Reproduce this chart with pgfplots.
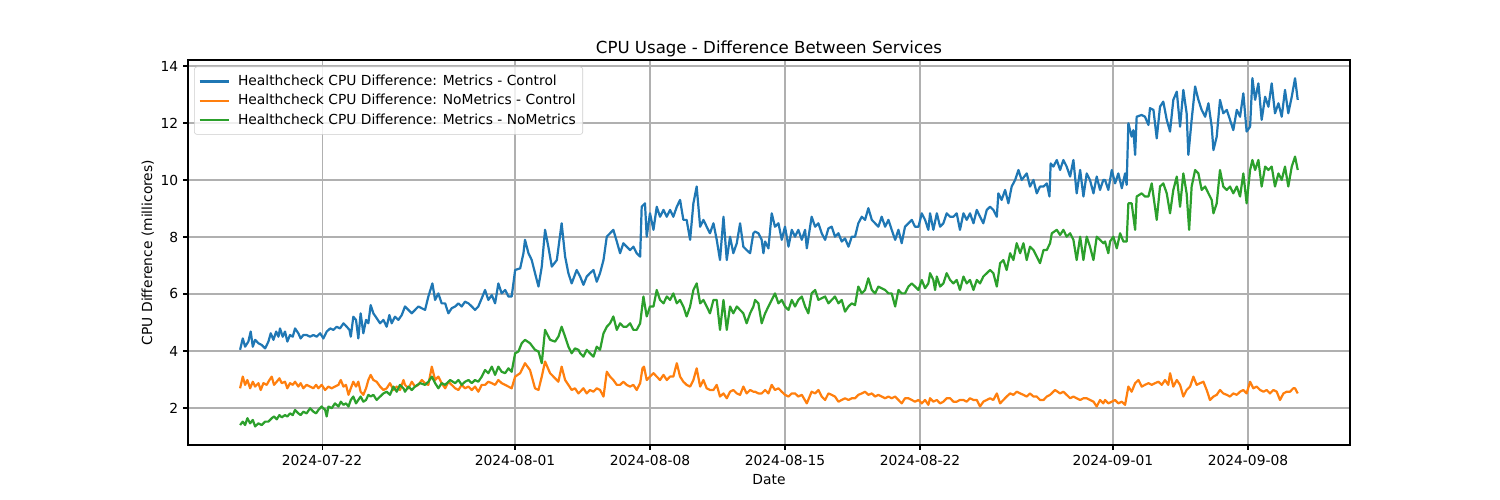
\documentclass[border=0pt]{standalone}
\usepackage{fontspec}
\setmainfont{DejaVu Sans}
\usepackage{pgfplots}
\pgfplotsset{compat=1.18}
\usepackage{pgfplotstable}
\definecolor{tabblue}{HTML}{1F77B4}
\definecolor{taborange}{HTML}{FF7F0E}
\definecolor{tabgreen}{HTML}{2CA02C}
\definecolor{gridgray}{HTML}{B0B0B0}
\definecolor{legframe}{HTML}{CCCCCC}

% x = days since 2024-07-22 00:00
\pgfplotstableread[row sep=\\]{
d v\\
-4.25 4.04\\ -4.11 4.44\\ -3.99 4.15\\ -3.82 4.33\\ -3.70 4.68\\ -3.59 4.15\\ -3.47 4.39\\ -3.30 4.27\\ -3.13 4.21\\ -2.95 4.09\\
-2.78 4.33\\ -2.66 4.62\\ -2.52 4.39\\ -2.38 4.68\\ -2.26 4.50\\ -2.18 4.79\\ -2.04 4.50\\ -1.92 4.68\\ -1.80 4.33\\ -1.66 4.56\\
-1.52 4.50\\ -1.40 4.79\\ -1.23 4.62\\ -1.11 4.44\\ -0.97 4.56\\ -0.80 4.56\\ -0.62 4.50\\ -0.45 4.56\\ -0.28 4.50\\ -0.10 4.62\\
0.07 4.44\\ 0.24 4.68\\ 0.42 4.79\\ 0.59 4.74\\ 0.76 4.85\\ 0.93 4.79\\ 1.11 4.97\\ 1.28 4.85\\ 1.42 4.74\\ 1.49 4.50\\
1.62 5.20\\ 1.76 5.09\\ 1.88 4.44\\ 2.00 5.32\\ 2.14 4.62\\ 2.28 5.09\\ 2.40 4.97\\ 2.52 5.61\\ 2.66 5.32\\ 2.83 5.15\\
3.01 4.97\\ 3.18 5.09\\ 3.35 4.85\\ 3.49 5.26\\ 3.61 4.97\\ 3.78 5.20\\ 3.96 5.09\\ 4.13 5.26\\
4.30 5.56\\ 4.65 5.32\\ 4.99 5.56\\ 5.34 5.44\\ 5.51 5.91\\ 5.72 6.37\\ 5.86 5.79\\ 6.03 6.02\\ 6.20 5.67\\ 6.38 5.67\\
6.55 5.32\\ 6.72 5.50\\ 6.90 5.56\\ 7.07 5.67\\ 7.24 5.56\\ 7.41 5.73\\ 7.59 5.67\\ 7.76 5.56\\ 7.93 5.44\\ 8.10 5.56\\
8.28 5.85\\ 8.45 6.14\\ 8.62 5.79\\ 8.80 5.96\\ 8.97 5.67\\ 9.14 6.37\\ 9.31 6.02\\ 9.49 6.14\\ 9.66 5.91\\ 9.83 5.91\\
10.01 6.84\\ 10.27 6.90\\ 10.44 7.43\\ 10.52 7.90\\ 10.70 7.43\\ 10.87 7.19\\ 11.04 6.73\\ 11.22 6.26\\ 11.39 6.96\\ 11.56 8.25\\
11.73 7.66\\ 11.91 6.96\\ 12.17 7.19\\ 12.42 8.48\\ 12.60 7.31\\ 12.77 6.73\\ 12.94 6.37\\ 13.20 6.84\\
13.38 6.61\\ 13.55 6.32\\ 13.72 6.61\\ 13.89 6.73\\ 14.07 6.84\\ 14.24 6.43\\ 14.41 6.73\\ 14.59 7.19\\ 14.76 8.01\\ 14.93 8.13\\
15.10 8.25\\ 15.28 7.84\\ 15.45 7.43\\ 15.62 7.78\\ 15.79 7.66\\ 15.97 7.54\\ 16.14 7.66\\ 16.31 7.43\\ 16.49 7.31\\ 16.57 9.06\\
16.74 9.18\\ 16.83 8.01\\ 17.00 8.83\\ 17.18 8.25\\ 17.35 9.06\\ 17.52 8.71\\ 17.70 8.95\\ 17.87 8.71\\ 18.04 8.95\\ 18.21 8.71\\
18.39 9.06\\ 18.56 9.30\\ 18.73 8.60\\ 18.90 8.60\\ 19.08 7.90\\ 19.25 9.18\\ 19.42 9.77\\ 19.60 8.36\\ 19.77 8.60\\ 19.94 8.36\\
20.11 8.13\\ 20.29 8.48\\ 20.46 7.90\\ 20.63 7.19\\ 20.81 8.71\\ 20.98 7.19\\ 21.15 8.01\\ 21.32 7.43\\ 21.50 7.78\\ 21.67 8.48\\
21.84 7.66\\ 22.01 7.54\\ 22.19 7.43\\ 22.36 8.13\\
22.45 8.19\\ 22.62 8.13\\ 22.79 7.90\\ 22.88 7.43\\ 22.97 7.84\\ 23.14 7.60\\ 23.31 8.83\\ 23.48 8.36\\ 23.66 8.48\\ 23.83 7.90\\
24.00 8.36\\ 24.18 7.66\\ 24.35 8.25\\ 24.52 8.01\\ 24.69 8.25\\ 24.87 7.90\\ 25.04 8.25\\ 25.13 7.60\\ 25.38 8.71\\ 25.56 8.36\\
25.73 8.48\\ 25.90 8.13\\ 26.08 7.90\\ 26.25 8.30\\ 26.42 8.36\\ 26.59 8.01\\ 26.77 8.13\\ 26.94 7.84\\ 27.11 7.95\\ 27.29 7.66\\
27.46 8.01\\ 27.63 8.01\\ 27.80 8.48\\ 27.98 8.71\\ 28.15 8.60\\ 28.32 9.01\\ 28.50 8.60\\ 28.67 8.48\\ 28.84 8.36\\ 29.01 8.71\\
29.19 8.36\\ 29.36 8.60\\ 29.53 8.25\\ 29.71 7.90\\ 29.88 8.25\\ 30.05 7.78\\ 30.22 8.36\\ 30.40 8.48\\ 30.57 8.60\\ 30.74 8.36\\
30.92 8.36\\ 31.09 8.83\\ 31.26 8.60\\ 31.43 8.25\\
31.52 8.83\\ 31.69 8.25\\ 31.87 8.83\\ 32.04 8.36\\ 32.21 8.48\\ 32.38 8.83\\ 32.56 8.71\\ 32.73 8.71\\ 32.90 8.83\\ 33.07 8.25\\
33.25 8.83\\ 33.42 8.60\\ 33.59 8.83\\ 33.77 8.48\\ 33.94 8.95\\ 34.11 8.71\\ 34.28 8.48\\ 34.46 8.95\\ 34.63 9.06\\ 34.80 8.95\\
34.98 8.71\\ 35.06 9.53\\ 35.23 9.30\\ 35.41 9.65\\ 35.58 9.18\\ 35.75 9.77\\ 35.93 10.00\\ 36.10 10.35\\ 36.27 10.00\\ 36.53 10.23\\
36.70 9.77\\ 36.88 10.00\\ 37.05 9.53\\ 37.22 9.77\\ 37.40 9.77\\ 37.57 9.88\\ 37.71 9.42\\ 37.77 10.58\\ 37.91 10.47\\ 38.09 10.70\\
38.26 10.35\\ 38.43 10.70\\ 38.60 10.47\\ 38.78 10.12\\ 38.95 10.70\\ 39.12 9.53\\ 39.30 10.35\\ 39.47 9.42\\ 39.64 10.23\\ 39.81 10.00\\
39.99 9.53\\ 40.16 10.12\\ 40.33 9.65\\ 40.50 10.00\\
40.59 10.00\\ 40.76 9.65\\ 40.94 10.35\\ 41.11 9.88\\ 41.28 10.23\\ 41.46 9.71\\ 41.63 10.23\\ 41.71 9.83\\ 41.80 11.99\\ 41.97 11.52\\
42.06 11.75\\ 42.15 10.88\\ 42.23 12.22\\ 42.49 12.28\\ 42.66 12.22\\ 42.84 11.93\\ 42.92 12.52\\ 43.10 12.46\\ 43.27 11.46\\ 43.44 12.57\\
43.61 12.75\\ 43.79 12.11\\ 43.96 11.70\\ 44.13 12.81\\ 44.31 13.10\\ 44.48 11.87\\ 44.65 13.16\\ 44.82 12.34\\ 44.91 10.88\\ 45.08 12.11\\
45.26 13.28\\ 45.43 12.81\\ 45.60 12.46\\ 45.78 12.22\\ 45.95 12.69\\ 46.12 11.87\\ 46.21 11.05\\ 46.38 11.52\\ 46.55 12.81\\ 46.72 12.34\\
46.90 12.46\\ 47.07 12.11\\ 47.24 11.75\\ 47.42 12.46\\ 47.59 12.22\\ 47.76 13.04\\ 47.93 11.70\\ 48.11 11.87\\ 48.23 13.57\\ 48.37 12.81\\
48.54 13.39\\ 48.71 12.11\\ 48.89 12.92\\ 49.06 12.57\\ 49.23 13.39\\ 49.40 12.34\\ 49.58 12.69\\ 49.75 12.22\\ 49.92 13.16\\ 50.09 12.34\\
50.27 12.92\\ 50.44 13.57\\ 50.58 12.81\\
}\blueT

\pgfplotstableread[row sep=\\]{
d v\\
-4.25 2.69\\ -4.11 3.10\\ -3.99 2.81\\ -3.87 2.98\\ -3.73 2.69\\ -3.59 2.92\\ -3.47 2.75\\ -3.30 2.87\\ -3.18 2.63\\ -3.04 2.87\\
-2.87 2.81\\ -2.73 2.98\\ -2.61 3.10\\ -2.49 2.81\\ -2.35 2.92\\ -2.21 3.04\\ -2.09 2.87\\ -1.92 2.92\\ -1.80 2.69\\ -1.66 2.87\\
-1.52 2.81\\ -1.40 2.92\\ -1.23 2.75\\ -1.11 2.87\\ -0.97 2.69\\ -0.80 2.81\\ -0.62 2.75\\ -0.45 2.69\\ -0.31 2.81\\ -0.19 2.69\\
-0.02 2.81\\ 0.16 2.63\\ 0.33 2.75\\ 0.50 2.69\\ 0.67 2.75\\ 0.85 2.81\\ 0.97 2.98\\ 1.11 2.75\\ 1.24 2.81\\ 1.37 2.46\\
1.49 2.69\\ 1.62 2.92\\ 1.76 2.75\\ 1.88 2.92\\ 2.00 2.57\\ 2.14 2.46\\ 2.28 2.69\\ 2.40 2.98\\ 2.52 3.16\\ 2.66 2.98\\
2.83 2.92\\ 3.01 2.75\\ 3.18 2.63\\ 3.35 2.69\\ 3.52 2.87\\ 3.70 2.63\\ 3.87 2.75\\ 4.04 2.63\\ 4.22 2.98\\
4.30 2.81\\ 4.48 2.69\\ 4.65 2.92\\ 4.82 2.75\\ 4.99 2.81\\ 5.17 2.98\\ 5.34 2.87\\ 5.51 2.81\\ 5.69 3.45\\ 5.86 2.98\\
6.03 3.10\\ 6.20 2.87\\ 6.38 2.69\\ 6.55 2.92\\ 6.72 2.81\\ 6.90 2.69\\ 7.07 2.63\\ 7.24 2.81\\ 7.41 2.69\\ 7.59 2.75\\
7.76 2.63\\ 7.93 2.75\\ 8.10 2.57\\ 8.28 2.81\\ 8.45 2.81\\ 8.62 2.92\\ 8.80 2.87\\ 8.97 2.81\\ 9.14 2.98\\ 9.31 2.87\\
9.49 2.81\\ 9.66 2.75\\ 9.83 2.69\\ 10.01 3.10\\ 10.27 3.22\\ 10.52 3.57\\ 10.78 3.33\\ 11.04 2.69\\ 11.22 2.63\\ 11.39 3.10\\
11.56 3.63\\ 11.82 3.22\\ 12.08 3.04\\ 12.25 2.92\\ 12.42 3.45\\ 12.60 2.98\\ 12.77 2.81\\ 12.94 2.63\\ 13.11 2.69\\ 13.29 2.51\\
13.38 2.57\\ 13.55 2.69\\ 13.72 2.51\\ 13.89 2.63\\ 14.07 2.57\\ 14.24 2.69\\ 14.41 2.63\\ 14.59 2.40\\ 14.76 3.27\\ 14.93 3.10\\
15.10 2.98\\ 15.28 2.81\\ 15.45 2.81\\ 15.62 2.92\\ 15.79 2.81\\ 15.97 2.75\\ 16.14 2.81\\ 16.31 2.63\\ 16.49 2.87\\ 16.61 3.39\\
16.69 3.45\\ 16.83 2.98\\ 17.00 3.10\\ 17.18 3.22\\ 17.35 3.10\\ 17.52 2.98\\ 17.70 3.16\\ 17.87 2.98\\ 18.04 3.10\\ 18.21 3.10\\
18.39 3.57\\ 18.56 3.10\\ 18.73 2.92\\ 18.90 2.81\\ 19.08 2.75\\ 19.25 2.98\\ 19.42 3.39\\ 19.60 2.75\\ 19.77 2.98\\ 19.94 2.69\\
20.11 2.63\\ 20.29 2.63\\ 20.46 2.81\\ 20.63 2.40\\ 20.81 2.51\\ 20.98 2.34\\ 21.15 2.57\\ 21.32 2.63\\ 21.50 2.51\\ 21.67 2.46\\
21.84 2.75\\ 22.01 2.51\\ 22.19 2.63\\ 22.36 2.57\\
22.45 2.57\\ 22.62 2.51\\ 22.79 2.51\\ 22.97 2.63\\ 23.14 2.51\\ 23.31 2.81\\ 23.48 2.63\\ 23.66 2.69\\ 23.83 2.57\\ 24.00 2.46\\
24.18 2.40\\ 24.35 2.51\\ 24.52 2.51\\ 24.69 2.40\\ 24.87 2.46\\ 25.13 2.16\\ 25.38 2.57\\ 25.56 2.51\\ 25.73 2.63\\ 25.90 2.40\\
26.08 2.28\\ 26.25 2.51\\ 26.42 2.46\\ 26.59 2.40\\ 26.77 2.22\\ 26.94 2.28\\ 27.11 2.34\\ 27.29 2.28\\ 27.46 2.34\\ 27.63 2.34\\
27.80 2.46\\ 27.98 2.51\\ 28.15 2.57\\ 28.32 2.46\\ 28.50 2.51\\ 28.67 2.40\\ 28.84 2.46\\ 29.01 2.40\\ 29.19 2.34\\ 29.36 2.40\\
29.53 2.34\\ 29.71 2.40\\ 29.88 2.28\\ 30.05 2.16\\ 30.22 2.34\\ 30.40 2.34\\ 30.57 2.28\\ 30.74 2.22\\ 30.92 2.28\\ 31.09 2.16\\
31.26 2.28\\ 31.43 2.11\\
31.52 2.34\\ 31.69 2.22\\ 31.87 2.28\\ 32.04 2.16\\ 32.21 2.22\\ 32.38 2.34\\ 32.56 2.34\\ 32.73 2.22\\ 32.90 2.22\\ 33.07 2.28\\
33.25 2.28\\ 33.42 2.22\\ 33.59 2.34\\ 33.77 2.28\\ 33.94 2.28\\ 34.11 2.05\\ 34.28 2.22\\ 34.46 2.28\\ 34.63 2.34\\ 34.80 2.28\\
34.98 2.51\\ 35.15 2.16\\ 35.32 2.28\\ 35.49 2.40\\ 35.67 2.51\\ 35.84 2.46\\ 36.01 2.57\\ 36.19 2.51\\ 36.36 2.46\\ 36.53 2.40\\
36.70 2.51\\ 36.88 2.40\\ 37.05 2.40\\ 37.22 2.28\\ 37.40 2.28\\ 37.57 2.40\\ 37.74 2.46\\ 38.00 2.63\\ 38.26 2.51\\ 38.43 2.57\\
38.60 2.46\\ 38.78 2.34\\ 38.95 2.40\\ 39.12 2.34\\ 39.30 2.28\\ 39.47 2.34\\ 39.64 2.34\\ 39.81 2.28\\ 39.99 2.22\\ 40.16 2.05\\
40.33 2.28\\ 40.50 2.16\\
40.59 2.28\\ 40.76 2.16\\ 40.94 2.22\\ 41.11 2.28\\ 41.28 2.16\\ 41.46 2.22\\ 41.63 2.11\\ 41.80 2.75\\ 41.97 2.57\\ 42.15 2.87\\
42.32 2.98\\ 42.49 2.75\\ 42.66 2.81\\ 42.84 2.87\\ 43.01 2.81\\ 43.18 2.87\\ 43.36 2.92\\ 43.53 2.81\\ 43.70 2.98\\ 43.87 2.81\\
43.96 3.22\\ 44.13 2.75\\ 44.31 2.98\\ 44.48 2.81\\ 44.65 2.40\\ 44.82 2.63\\ 45.00 2.75\\ 45.17 3.10\\ 45.34 2.81\\ 45.52 2.87\\
45.69 2.92\\ 45.86 2.63\\ 46.03 2.28\\ 46.21 2.40\\ 46.38 2.46\\ 46.55 2.63\\ 46.72 2.51\\ 46.90 2.46\\ 47.07 2.40\\ 47.24 2.51\\
47.42 2.46\\ 47.59 2.57\\ 47.76 2.63\\ 47.93 2.51\\ 48.11 2.92\\ 48.28 2.69\\ 48.45 2.75\\ 48.63 2.63\\ 48.80 2.57\\ 48.97 2.63\\
49.14 2.51\\ 49.32 2.63\\ 49.49 2.57\\ 49.66 2.28\\ 49.84 2.51\\ 50.01 2.57\\ 50.18 2.57\\ 50.35 2.69\\ 50.44 2.69\\ 50.58 2.51\\
}\orangeT

\pgfplotstableread[row sep=\\]{
d v\\
-4.25 1.40\\ -4.11 1.52\\ -3.99 1.40\\ -3.87 1.64\\ -3.73 1.46\\ -3.59 1.58\\ -3.47 1.35\\ -3.30 1.46\\ -3.13 1.40\\ -2.95 1.52\\
-2.78 1.52\\ -2.61 1.64\\ -2.49 1.70\\ -2.35 1.60\\ -2.21 1.75\\ -2.09 1.67\\ -1.92 1.75\\ -1.80 1.70\\ -1.66 1.81\\ -1.52 1.75\\
-1.40 1.93\\ -1.23 1.81\\ -1.11 1.75\\ -0.97 1.87\\ -0.80 1.81\\ -0.62 1.99\\ -0.45 1.87\\ -0.31 1.81\\ -0.19 1.93\\ -0.02 2.05\\
0.16 1.93\\ 0.24 1.70\\ 0.33 2.05\\ 0.50 1.99\\ 0.67 2.16\\ 0.85 2.05\\ 0.97 2.22\\ 1.11 2.11\\ 1.24 2.16\\ 1.37 2.05\\
1.49 2.28\\ 1.62 2.40\\ 1.76 2.16\\ 1.88 2.28\\ 2.00 2.40\\ 2.14 2.22\\ 2.28 2.28\\ 2.40 2.46\\ 2.52 2.40\\ 2.66 2.46\\
2.83 2.28\\ 3.01 2.40\\ 3.18 2.51\\ 3.35 2.57\\ 3.52 2.46\\ 3.70 2.75\\ 3.87 2.57\\ 4.04 2.81\\ 4.22 2.69\\
4.30 2.57\\ 4.48 2.75\\ 4.65 2.63\\ 4.82 2.75\\ 5.08 2.87\\ 5.34 2.81\\ 5.51 2.92\\ 5.69 3.10\\ 5.86 2.87\\ 6.03 2.69\\
6.20 2.87\\ 6.38 2.81\\ 6.64 2.98\\ 6.90 2.87\\ 7.07 2.98\\ 7.24 2.81\\ 7.41 2.92\\ 7.59 2.98\\ 7.76 2.87\\ 7.93 2.98\\
8.10 2.92\\ 8.28 3.10\\ 8.45 3.33\\ 8.62 3.22\\ 8.80 3.45\\ 8.97 3.16\\ 9.14 3.45\\ 9.31 3.27\\ 9.49 3.22\\ 9.66 3.39\\
9.83 3.27\\ 10.01 3.92\\ 10.18 3.98\\ 10.35 4.27\\ 10.52 4.39\\ 10.78 4.27\\ 11.04 4.04\\ 11.22 3.98\\ 11.39 3.57\\ 11.56 4.74\\
11.82 4.39\\ 12.08 4.33\\ 12.25 4.50\\ 12.42 4.85\\ 12.60 4.50\\ 12.77 4.15\\ 12.94 3.92\\ 13.11 4.09\\ 13.29 4.04\\
13.38 3.92\\ 13.55 3.80\\ 13.72 4.04\\ 13.89 3.92\\ 14.07 3.80\\ 14.24 4.15\\ 14.41 4.04\\ 14.59 4.62\\ 14.76 4.85\\ 14.93 4.97\\
15.10 5.21\\ 15.28 4.74\\ 15.45 4.97\\ 15.62 4.85\\ 15.79 4.85\\ 15.97 4.97\\ 16.14 4.74\\ 16.31 4.74\\ 16.49 4.97\\ 16.66 5.91\\
16.83 5.21\\ 17.00 5.56\\ 17.18 5.56\\ 17.35 6.14\\ 17.52 5.79\\ 17.70 5.67\\ 17.87 5.91\\ 18.04 5.79\\ 18.21 6.02\\ 18.39 5.67\\
18.56 5.79\\ 18.73 5.56\\ 18.90 5.21\\ 19.08 5.56\\ 19.25 6.14\\ 19.42 6.37\\ 19.60 5.67\\ 19.77 5.79\\ 19.94 5.56\\ 20.11 5.32\\
20.29 5.79\\ 20.46 5.79\\ 20.63 4.74\\ 20.81 5.79\\ 20.98 4.74\\ 21.15 5.56\\ 21.32 5.32\\ 21.50 5.56\\ 21.67 5.44\\ 21.84 5.32\\
22.01 4.97\\ 22.19 5.32\\ 22.36 5.56\\
22.45 5.79\\ 22.62 5.67\\ 22.79 4.97\\ 22.97 5.32\\ 23.14 5.56\\ 23.31 5.79\\ 23.48 6.02\\ 23.66 5.67\\ 23.83 5.79\\ 24.00 5.56\\
24.18 5.44\\ 24.35 5.79\\ 24.52 5.56\\ 24.69 5.79\\ 24.87 5.91\\ 25.04 5.56\\ 25.21 5.32\\ 25.38 6.02\\ 25.56 6.14\\ 25.73 5.79\\
25.90 5.85\\ 26.08 5.91\\ 26.25 5.67\\ 26.42 5.79\\ 26.59 5.91\\ 26.77 5.67\\ 26.94 5.79\\ 27.11 5.38\\ 27.29 5.56\\ 27.46 5.67\\
27.63 5.61\\ 27.80 6.26\\ 27.98 6.02\\ 28.15 6.14\\ 28.32 6.55\\ 28.50 6.14\\ 28.67 6.02\\ 28.84 6.26\\ 29.01 6.20\\ 29.19 6.14\\
29.36 6.02\\ 29.53 6.02\\ 29.71 5.56\\ 29.88 6.14\\ 30.05 6.02\\ 30.22 6.02\\ 30.40 6.26\\ 30.57 6.37\\ 30.74 6.26\\ 30.92 6.14\\
31.09 6.49\\ 31.26 6.20\\ 31.43 6.37\\
31.52 6.73\\ 31.69 6.49\\ 31.78 6.14\\ 31.87 6.61\\ 32.04 6.26\\ 32.21 6.37\\ 32.38 6.73\\ 32.56 6.49\\ 32.73 6.37\\ 32.90 6.49\\
33.07 6.14\\ 33.25 6.61\\ 33.42 6.37\\ 33.59 6.49\\ 33.77 6.14\\ 33.94 6.49\\ 34.11 6.37\\ 34.28 6.61\\ 34.46 6.73\\ 34.63 6.84\\
34.80 6.73\\ 34.98 6.26\\ 35.15 7.08\\ 35.32 7.19\\ 35.49 6.84\\ 35.67 7.43\\ 35.84 7.19\\ 36.01 7.78\\ 36.19 7.43\\ 36.36 7.78\\
36.53 7.19\\ 36.70 7.66\\ 36.88 7.54\\ 37.05 7.31\\ 37.22 7.08\\ 37.40 7.54\\ 37.57 7.54\\ 37.74 7.78\\ 37.83 8.13\\ 38.09 8.25\\
38.26 8.07\\ 38.43 8.25\\ 38.60 8.01\\ 38.78 8.13\\ 38.95 7.90\\ 39.12 7.19\\ 39.30 8.01\\ 39.47 7.19\\ 39.64 8.01\\ 39.81 7.66\\
39.99 7.19\\ 40.16 8.01\\ 40.33 7.90\\ 40.50 7.78\\
40.59 7.84\\ 40.76 7.43\\ 40.85 7.84\\ 41.02 8.01\\ 41.20 7.60\\ 41.37 8.13\\ 41.54 7.84\\ 41.71 7.84\\ 41.80 9.18\\ 41.97 9.18\\
42.15 8.25\\ 42.23 9.42\\ 42.49 9.53\\ 42.66 9.42\\ 42.84 9.42\\ 43.01 9.88\\ 43.27 8.60\\ 43.44 9.77\\ 43.61 9.88\\ 43.79 9.53\\
43.96 8.83\\ 44.13 9.65\\ 44.31 10.12\\ 44.48 9.06\\ 44.65 10.23\\ 44.82 9.53\\ 44.95 8.25\\ 45.08 9.77\\ 45.26 10.35\\ 45.43 10.23\\
45.60 9.65\\ 45.78 9.77\\ 45.95 9.53\\ 46.12 9.30\\ 46.21 8.83\\ 46.38 9.18\\ 46.55 10.35\\ 46.72 9.77\\ 46.90 9.65\\ 47.07 9.77\\
47.24 9.53\\ 47.42 9.77\\ 47.59 9.42\\ 47.76 10.23\\ 47.93 9.18\\ 48.11 10.35\\ 48.23 10.70\\ 48.37 10.35\\ 48.54 10.70\\ 48.71 9.77\\
48.89 10.47\\ 49.06 10.35\\ 49.23 10.47\\ 49.40 9.77\\ 49.58 10.23\\ 49.75 10.00\\ 49.92 10.47\\ 50.09 9.77\\ 50.27 10.47\\ 50.44 10.82\\
50.58 10.35\\
}\greenT

\begin{document}
\begin{tikzpicture}
\useasboundingbox (-1.88in,-0.55in) rectangle (13.12in,4.45in);
\begin{axis}[
  at={(0,0)}, anchor=south west,
  width=11.62in, height=3.85in, scale only axis,
  xmin=-6.95, xmax=53.29, ymin=0.70, ymax=14.21,
  xtick={0,10,17,24,31,41,48},
  xticklabels={2024-07-22,2024-08-01,2024-08-08,2024-08-15,2024-08-22,2024-09-01,2024-09-08},
  ytick={2,4,6,8,10,12,14},
  grid=major,
  major grid style={gridgray, line width=0.8pt},
  axis line style={line width=0.8pt},
  every tick/.style={black, line width=0.8pt},
  tick align=outside, tick pos=left,
  major tick length=3.5pt,
  font=\fontsize{10}{12}\selectfont,
  ticklabel style={font=\fontsize{10}{12}\selectfont},
  /pgf/number format/assume math mode=true,
  title={CPU Usage - Difference Between Services},
  title style={font=\fontsize{12}{14}\selectfont, yshift=-7pt},
  xlabel={Date},
  ylabel={CPU Difference (millicores)},
  ylabel style={yshift=-2pt},
  label style={font=\fontsize{10}{12}\selectfont},
  legend cell align=left,
  legend style={at={(0.0052,0.983)}, anchor=north west, draw=legframe, rounded corners=2pt,
    fill=white, fill opacity=0.8, text opacity=1, font=\fontsize{10}{12}\selectfont,
    inner xsep=3pt, inner ysep=4pt, row sep=0.8pt},
  legend image code/.code={\draw[#1] (0pt,0pt) -- (21pt,0pt); \path (25pt,0pt);},
]
\addplot[tabblue, line width=1.6pt, line join=round, no markers] table[x=d, y=v] {\blueT};
\addlegendentry{Healthcheck CPU Difference: Metrics - Control}
\addplot[taborange, line width=1.6pt, line join=round, no markers] table[x=d, y=v] {\orangeT};
\addlegendentry{Healthcheck CPU Difference: NoMetrics - Control}
\addplot[tabgreen, line width=1.6pt, line join=round, no markers] table[x=d, y=v] {\greenT};
\addlegendentry{Healthcheck CPU Difference: Metrics - NoMetrics}
\end{axis}
\end{tikzpicture}
\end{document}
